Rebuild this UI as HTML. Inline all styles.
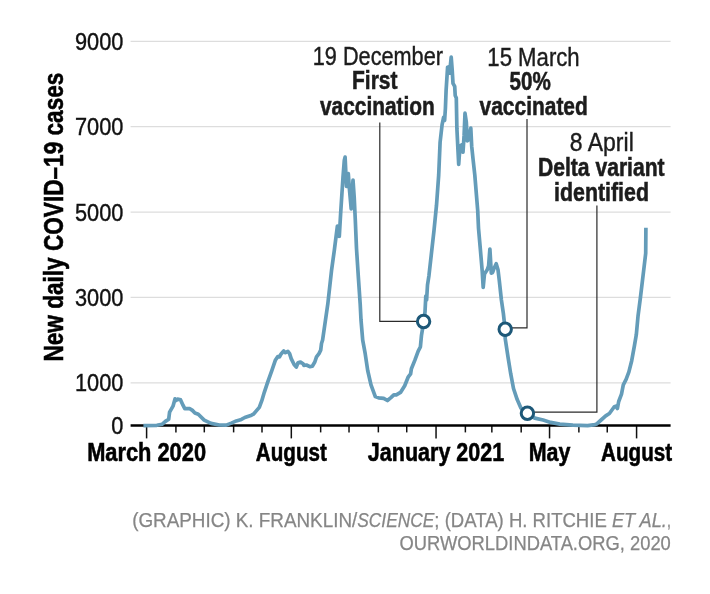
<!DOCTYPE html>
<html lang="en"><head><meta charset="utf-8"><title>New daily COVID-19 cases</title>
<style>
html,body{margin:0;padding:0;background:#fff}
body{width:710px;height:594px;overflow:hidden}
svg{display:block;font-family:'Liberation Sans', sans-serif}
</style></head><body>
<svg width="710" height="594" viewBox="0 0 710 594">
<rect width="710" height="594" fill="#fff"/>
<g stroke="#dddddd" stroke-width="1.3">
<line x1="130.6" y1="41.29" x2="670.6" y2="41.29"/>
<line x1="130.6" y1="126.67" x2="670.6" y2="126.67"/>
<line x1="130.6" y1="212.05" x2="670.6" y2="212.05"/>
<line x1="130.6" y1="297.43" x2="670.6" y2="297.43"/>
<line x1="130.6" y1="382.81" x2="670.6" y2="382.81"/>
</g>
<g>
<text x="75.01" y="49.79" font-size="24.5" font-weight="400" textLength="48.39" lengthAdjust="spacingAndGlyphs" fill="#111" stroke="#111" stroke-width="0.4">9000</text>
<text x="75.01" y="135.17" font-size="24.5" font-weight="400" textLength="48.39" lengthAdjust="spacingAndGlyphs" fill="#111" stroke="#111" stroke-width="0.4">7000</text>
<text x="75.01" y="220.55" font-size="24.5" font-weight="400" textLength="48.39" lengthAdjust="spacingAndGlyphs" fill="#111" stroke="#111" stroke-width="0.4">5000</text>
<text x="75.01" y="305.93" font-size="24.5" font-weight="400" textLength="48.39" lengthAdjust="spacingAndGlyphs" fill="#111" stroke="#111" stroke-width="0.4">3000</text>
<text x="75.01" y="391.31" font-size="24.5" font-weight="400" textLength="48.39" lengthAdjust="spacingAndGlyphs" fill="#111" stroke="#111" stroke-width="0.4">1000</text>
<text x="111.29" y="434.00" font-size="24.5" font-weight="400" textLength="12.11" lengthAdjust="spacingAndGlyphs" fill="#111" stroke="#111" stroke-width="0.4">0</text>
</g>
<text transform="translate(62.6 361.6) rotate(-90)" font-size="26.8" font-weight="700" textLength="288.97" lengthAdjust="spacingAndGlyphs" fill="#000" stroke="#000" stroke-width="0.55">New daily COVID–19 cases</text>
<g stroke="#111" stroke-width="1.5">
<line x1="146.60" y1="425.5" x2="146.60" y2="438.4"/>
<line x1="175.92" y1="425.5" x2="175.92" y2="432.4"/>
<line x1="204.30" y1="425.5" x2="204.30" y2="432.4"/>
<line x1="233.62" y1="425.5" x2="233.62" y2="432.4"/>
<line x1="262.00" y1="425.5" x2="262.00" y2="432.4"/>
<line x1="291.32" y1="425.5" x2="291.32" y2="438.4"/>
<line x1="320.65" y1="425.5" x2="320.65" y2="432.4"/>
<line x1="349.02" y1="425.5" x2="349.02" y2="432.4"/>
<line x1="378.35" y1="425.5" x2="378.35" y2="432.4"/>
<line x1="406.72" y1="425.5" x2="406.72" y2="432.4"/>
<line x1="436.05" y1="425.5" x2="436.05" y2="438.4"/>
<line x1="465.37" y1="425.5" x2="465.37" y2="432.4"/>
<line x1="491.85" y1="425.5" x2="491.85" y2="432.4"/>
<line x1="521.18" y1="425.5" x2="521.18" y2="432.4"/>
<line x1="549.55" y1="425.5" x2="549.55" y2="438.4"/>
<line x1="578.88" y1="425.5" x2="578.88" y2="432.4"/>
<line x1="607.25" y1="425.5" x2="607.25" y2="432.4"/>
<line x1="636.58" y1="425.5" x2="636.58" y2="438.4"/>
</g>
<line x1="130.6" y1="425.5" x2="670.6" y2="425.5" stroke="#000" stroke-width="2.5"/>
<text x="87.15" y="460.60" font-size="25.0" font-weight="700" textLength="118.89" lengthAdjust="spacingAndGlyphs" fill="#000" stroke="#000" stroke-width="0.55">March 2020</text>
<text x="255.83" y="460.60" font-size="25.0" font-weight="700" textLength="70.98" lengthAdjust="spacingAndGlyphs" fill="#000" stroke="#000" stroke-width="0.55">August</text>
<text x="367.87" y="460.60" font-size="25.0" font-weight="700" textLength="136.34" lengthAdjust="spacingAndGlyphs" fill="#000" stroke="#000" stroke-width="0.55">January 2021</text>
<text x="528.71" y="460.60" font-size="25.0" font-weight="700" textLength="41.69" lengthAdjust="spacingAndGlyphs" fill="#000" stroke="#000" stroke-width="0.55">May</text>
<text x="601.08" y="460.60" font-size="25.0" font-weight="700" textLength="70.98" lengthAdjust="spacingAndGlyphs" fill="#000" stroke="#000" stroke-width="0.55">August</text>
<g fill="none" stroke="#2b2b2b" stroke-width="1.2">
<polyline points="379.8,122.5 379.8,321.3 423.6,321.3"/>
<polyline points="527.0,119 527.0,327.8 505.2,327.8"/>
<polyline points="596.9,205.5 596.9,412.1 527.4,412.1"/>
</g>
<polyline points="143.4,425.6 156.9,425.3 162.0,424.3 165.4,421.4 168.7,419.2 169.6,412.1 173.0,406.2 175.0,398.9 176.3,400.3 177.5,399.1 180.6,399.9 183.1,405.4 184.8,408.7 189.9,408.7 192.4,410.4 194.9,413.0 198.3,414.3 204.2,420.1 211.0,423.4 219.4,425.0 226.2,425.1 231.3,423.1 236.3,420.9 241.4,419.4 244.8,417.5 251.5,415.2 253.4,414.2 259.3,407.4 261.8,400.7 264.3,392.3 267.7,382.2 271.9,370.4 275.3,360.3 277.8,356.6 279.5,356.9 281.1,353.9 283.7,351.0 285.4,352.7 287.9,351.4 289.6,353.6 291.2,358.6 294.1,364.5 296.3,367.0 298.0,362.8 300.5,362.0 303.0,363.7 303.9,365.4 306.4,365.0 309.8,366.7 312.3,366.2 314.8,362.0 316.5,356.9 319.0,353.6 320.7,350.2 321.5,343.5 322.6,340.0 327.8,304.1 331.5,270.7 334.3,250.4 337.4,226.1 339.3,236.3 340.6,214.1 343.0,177.0 344.3,160.4 345.1,157.1 346.5,186.5 348.3,173.6 349.4,188.9 351.2,208.9 353.0,180.0 354.2,197.1 355.3,220.0 356.5,248.5 358.3,276.3 360.2,304.1 361.0,320.0 362.7,340.2 365.2,353.7 367.7,370.5 371.0,384.8 375.3,396.6 378.6,397.8 383.7,398.3 387.4,400.5 391.2,397.4 393.8,394.9 396.3,394.9 400.5,392.4 404.7,385.7 408.1,377.2 410.6,373.9 411.4,368.8 414.8,360.4 418.2,351.1 420.4,346.9 421.5,335.2 422.9,326.7 423.6,321.5 425.0,312.0 425.8,296.0 426.6,300.0 427.5,285.0 428.9,276.0 434.0,230.5 436.5,205.3 438.7,175.0 440.1,142.1 442.1,124.6 443.6,117.4 444.6,120.4 445.4,108.5 446.1,90.4 447.6,67.2 449.1,66.7 449.6,73.2 451.2,57.1 452.2,70.2 453.0,83.3 454.7,86.4 455.2,95.5 456.3,98.0 456.9,128.7 457.9,148.9 458.7,164.4 460.0,146.2 461.9,144.8 463.0,152.2 464.1,135.4 465.0,113.2 466.3,121.9 467.3,140.8 469.0,139.4 470.8,128.0 471.7,146.2 473.1,159.6 474.8,175.0 477.7,210.3 478.5,228.1 480.5,251.0 482.2,271.2 483.2,287.3 484.5,273.9 487.2,269.8 488.6,265.8 489.9,249.0 491.3,273.2 492.6,272.5 494.0,268.5 496.2,263.8 498.0,269.8 499.3,280.6 501.4,300.0 503.4,313.8 505.1,329.2 505.2,338.5 508.0,357.0 510.7,373.7 513.5,388.5 517.2,399.6 520.9,408.0 527.4,413.2 534.8,418.1 543.1,420.0 550.6,422.4 559.8,424.1 572.8,425.2 587.6,425.6 595.0,424.6 596.5,424.1 601.1,420.0 605.7,415.9 609.4,413.5 614.1,407.0 615.9,406.1 617.4,408.5 618.7,401.5 621.5,394.1 623.3,384.8 626.1,379.3 628.9,371.9 631.7,360.7 634.4,345.9 636.3,334.8 638.0,316.3 640.4,297.8 643.5,271.9 645.7,253.3 645.9,227.8" fill="none" stroke="#649cb9" stroke-width="3.7" stroke-linejoin="round" stroke-linecap="butt"/>
<g fill="#fff" stroke="#1d5878" stroke-width="3">
<circle cx="423.6" cy="321.5" r="6.2"/>
<circle cx="505.2" cy="329.3" r="6.2"/>
<circle cx="527.4" cy="413.2" r="6.2"/>
</g>
<text x="312.81" y="64.60" font-size="25.0" font-weight="400" textLength="130.17" lengthAdjust="spacingAndGlyphs" fill="#1c1c1c" stroke="#1c1c1c" stroke-width="0.4">19 December</text>
<text x="352.05" y="89.40" font-size="25.0" font-weight="700" textLength="45.50" lengthAdjust="spacingAndGlyphs" fill="#1c1c1c" stroke="#1c1c1c" stroke-width="0.55">First</text>
<text x="319.95" y="114.50" font-size="25.0" font-weight="700" textLength="114.91" lengthAdjust="spacingAndGlyphs" fill="#1c1c1c" stroke="#1c1c1c" stroke-width="0.55">vaccination</text>
<text x="487.35" y="65.60" font-size="25.0" font-weight="400" textLength="92.30" lengthAdjust="spacingAndGlyphs" fill="#1c1c1c" stroke="#1c1c1c" stroke-width="0.4">15 March</text>
<text x="509.58" y="89.90" font-size="25.0" font-weight="700" textLength="41.23" lengthAdjust="spacingAndGlyphs" fill="#1c1c1c" stroke="#1c1c1c" stroke-width="0.55">50%</text>
<text x="479.59" y="114.80" font-size="25.0" font-weight="700" textLength="108.22" lengthAdjust="spacingAndGlyphs" fill="#1c1c1c" stroke="#1c1c1c" stroke-width="0.55">vaccinated</text>
<text x="569.84" y="151.30" font-size="25.0" font-weight="400" textLength="63.92" lengthAdjust="spacingAndGlyphs" fill="#1c1c1c" stroke="#1c1c1c" stroke-width="0.4">8 April</text>
<text x="537.93" y="175.70" font-size="25.0" font-weight="700" textLength="126.73" lengthAdjust="spacingAndGlyphs" fill="#1c1c1c" stroke="#1c1c1c" stroke-width="0.55">Delta variant</text>
<text x="554.05" y="200.80" font-size="25.0" font-weight="700" textLength="94.91" lengthAdjust="spacingAndGlyphs" fill="#1c1c1c" stroke="#1c1c1c" stroke-width="0.55">identified</text>
<text x="132.13" y="526.80" font-size="19.8" font-weight="400" textLength="225.12" lengthAdjust="spacingAndGlyphs" fill="#868686" stroke="#868686" stroke-width="0.25">(GRAPHIC) K. FRANKLIN/</text>
<text x="357.25" y="526.80" font-size="19.8" font-weight="400" font-style="italic" textLength="77.09" lengthAdjust="spacingAndGlyphs" fill="#868686" stroke="#868686" stroke-width="0.25">SCIENCE</text>
<text x="434.35" y="526.80" font-size="19.8" font-weight="400" xml:space="preserve" textLength="177.61" lengthAdjust="spacingAndGlyphs" fill="#868686" stroke="#868686" stroke-width="0.25">; (DATA) H. RITCHIE </text>
<text x="611.96" y="526.80" font-size="19.8" font-weight="400" font-style="italic" textLength="54.94" lengthAdjust="spacingAndGlyphs" fill="#868686" stroke="#868686" stroke-width="0.25">ET AL.</text>
<text x="666.89" y="526.80" font-size="19.8" font-weight="400" textLength="3.91" lengthAdjust="spacingAndGlyphs" fill="#868686" stroke="#868686" stroke-width="0.25">,</text>
<text x="399.55" y="550.20" font-size="19.8" font-weight="400" textLength="271.25" lengthAdjust="spacingAndGlyphs" fill="#868686" stroke="#868686" stroke-width="0.25">OURWORLDINDATA.ORG, 2020</text>
</svg></body></html>
